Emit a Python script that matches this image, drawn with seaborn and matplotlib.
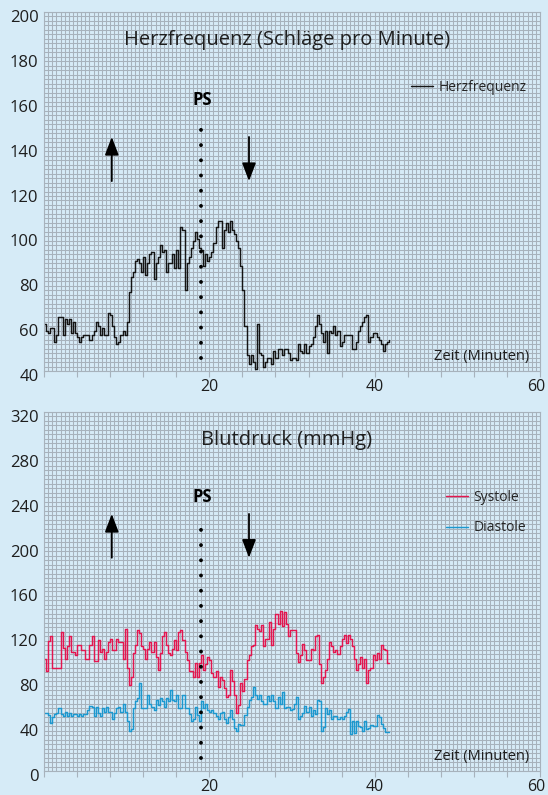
import numpy as np
import pandas as pd
import matplotlib
matplotlib.use("Agg")
import matplotlib.pyplot as plt
from matplotlib.ticker import MultipleLocator
from matplotlib.transforms import ScaledTranslation
import seaborn as sns

# ---------------- data ----------------
step_min = 0.25  # minutes between samples

herzfrequenz = [
    61, 58, 57, 59, 59, 53, 56, 64, 64, 56,
    63, 61, 63, 57, 62, 57, 55, 53, 55, 56,
    56, 56, 54, 56, 58, 62, 60, 56, 59, 56,
    56, 66, 65, 60, 55, 52, 53, 56, 58, 56,
    62, 75, 82, 84, 89, 90, 88, 84, 91, 83,
    88, 92, 93, 81, 88, 91, 96, 93, 94, 84,
    88, 88, 92, 86, 94, 86, 104, 103, 76, 88,
    91, 95, 98, 102, 99, 95, 94, 87, 92, 89,
    91, 93, 97, 104, 107, 107, 95, 103, 106, 102,
    107, 103, 101, 98, 95, 87, 76, 60, 47, 43,
    47, 44, 41, 61, 48, 47, 42, 44, 46, 46,
    43, 49, 46, 50, 50, 47, 50, 50, 48, 45,
    46, 46, 45, 52, 49, 48, 52, 48, 51, 52,
    55, 60, 65, 61, 57, 53, 58, 48, 58, 57,
    60, 56, 58, 51, 53, 56, 56, 56, 56, 50,
    50, 53, 58, 60, 62, 64, 65, 53, 55, 57,
    57, 55, 54, 52, 49, 52, 53, 54,
]

systole = [
    100, 89, 116, 120, 92, 92, 92, 92, 124, 110,
    100, 111, 120, 106, 106, 103, 112, 112, 108, 108,
    100, 100, 112, 120, 98, 98, 117, 106, 109, 100,
    106, 115, 118, 108, 108, 118, 115, 115, 100, 127,
    92, 77, 84, 105, 112, 126, 123, 111, 109, 100,
    109, 115, 106, 115, 102, 90, 105, 120, 124, 112,
    105, 103, 109, 117, 108, 124, 126, 117, 106, 99,
    89, 89, 84, 96, 84, 96, 103, 90, 95, 102,
    99, 87, 84, 89, 75, 84, 81, 74, 66, 68,
    90, 80, 68, 52, 59, 78, 71, 82, 99, 103,
    111, 112, 130, 127, 125, 130, 111, 118, 118, 133,
    112, 127, 140, 131, 143, 129, 142, 131, 120, 126,
    126, 126, 105, 97, 103, 113, 108, 99, 99, 109,
    108, 120, 121, 95, 78, 84, 90, 100, 115, 111,
    106, 108, 104, 111, 118, 121, 114, 121, 118, 111,
    100, 90, 95, 102, 92, 100, 78, 90, 92, 103,
    99, 105, 100, 112, 109, 108, 96, 96,
]

diastole = [
    52, 52, 50, 43, 48, 51, 52, 56, 51, 49,
    53, 49, 52, 49, 51, 51, 49, 51, 49, 51,
    51, 54, 58, 57, 49, 57, 52, 49, 56, 53,
    57, 53, 53, 46, 52, 56, 57, 53, 60, 53,
    45, 36, 37, 56, 62, 65, 78, 56, 56, 56,
    68, 60, 57, 54, 63, 59, 65, 62, 57, 65,
    62, 72, 63, 62, 68, 56, 56, 68, 56, 56,
    51, 45, 46, 57, 50, 45, 62, 56, 60, 54,
    53, 54, 52, 49, 46, 52, 53, 46, 43, 48,
    54, 46, 38, 36, 42, 41, 41, 50, 57, 63,
    66, 75, 68, 64, 68, 62, 60, 60, 67, 62,
    68, 62, 56, 66, 60, 70, 56, 57, 57, 54,
    55, 60, 66, 46, 49, 52, 58, 53, 57, 49,
    54, 51, 63, 62, 36, 39, 56, 51, 54, 46,
    49, 49, 46, 48, 46, 49, 53, 55, 33, 45,
    34, 45, 40, 39, 36, 45, 37, 38, 41, 40,
    40, 50, 48, 42, 38, 35, 35, 35,
]

hr_yticks = [40, 60, 80, 100, 120, 140, 160, 180, 200]
bp_yticks = [0, 40, 80, 120, 160, 200, 240, 280, 320]
x_labelled = [20, 40, 60]
ps_time = 19
arrow_up_time = 8.2
arrow_down_time = 24.8

# ---------------- style ----------------
BG = "#d6ebf7"
GRID = "#a7b2bc"
TXT = "#1e1e1e"
C_HR = "#141414"
C_SYS = "#e3164f"
C_DIA = "#1c98cf"

sns.set_theme(style="white")
plt.rcParams["font.family"] = ["Open Sans", "DejaVu Sans"]

time = np.arange(len(herzfrequenz)) * step_min
df_hr = pd.DataFrame({"Zeit": time, "Herzfrequenz": herzfrequenz})
df_bp = pd.DataFrame({"Zeit": time, "Systole": systole, "Diastole": diastole}).melt(
    id_vars="Zeit", var_name="Messung", value_name="mmHg")

fig = plt.figure(figsize=(5.48, 7.95), dpi=100, facecolor=BG)
ax1 = fig.add_axes([0.0803, 0.5333, 0.905, 0.4516])
ax2 = fig.add_axes([0.0803, 0.0302, 0.905, 0.4516])

xt = list(range(0, 60, 4)) + [60]
xl = [str(v) if v in x_labelled else "" for v in xt]


def style(ax, yticks, yminor):
    ax.set_facecolor(BG)
    ax.set_xlim(0, 60)
    ax.set_ylim(yticks[0], yticks[-1])
    ax.set_yticks(yticks)
    ax.set_xticks(xt)
    ax.set_xticklabels(xl)
    ax.xaxis.set_minor_locator(MultipleLocator(0.5))
    ax.yaxis.set_minor_locator(MultipleLocator(yminor))
    ax.grid(True, which="both", color=GRID, lw=0.75)
    ax.set_axisbelow(True)
    ax.tick_params(axis="y", length=0, pad=4, labelsize=12, labelcolor=TXT)
    ax.tick_params(axis="x", which="major", length=4, width=0.8, color=GRID,
                   pad=2, labelsize=11.5, labelcolor=TXT, bottom=True)
    ax.tick_params(which="minor", length=0)
    off = ScaledTranslation(0, -4 / 100, fig.dpi_scale_trans)
    for lab in ax.get_yticklabels():
        lab.set_transform(lab.get_transform() + off)
    last = ax.get_xticklabels()[-1]
    last.set_transform(last.get_transform() + ScaledTranslation(-4 / 100, 0, fig.dpi_scale_trans))
    for s in ax.spines.values():
        s.set_color(GRID)
        s.set_linewidth(0.8)
    ax.set_xlabel("")
    ax.set_ylabel("")
    ax.text(0.978, 0.04, "Zeit (Minuten)", transform=ax.transAxes,
            ha="right", va="center", fontsize=10.5, color=TXT)
    ax.axvline(ps_time, ymin=0.035, ymax=0.71, color="black", lw=2.8,
               linestyle=(0, (0.01, 3.9)), dash_capstyle="round")
    return ax.get_xaxis_transform()


def arrows(ax, tr, up_lo, up_hi, dn_hi, dn_lo):
    kw = dict(arrowstyle="-|>,head_length=1.1,head_width=0.42",
              mutation_scale=10, lw=1.3, color="black", shrinkA=0, shrinkB=0)
    ax.annotate("", xy=(arrow_up_time, up_hi), xytext=(arrow_up_time, up_lo),
                xycoords=tr, textcoords=tr, arrowprops=kw)
    ax.annotate("", xy=(arrow_down_time, dn_lo), xytext=(arrow_down_time, dn_hi),
                xycoords=tr, textcoords=tr, arrowprops=kw)


# ---- Herzfrequenz ----
sns.lineplot(data=df_hr, x="Zeit", y="Herzfrequenz", ax=ax1, color=C_HR, lw=1.05,
             drawstyle="steps-post", estimator=None, label="Herzfrequenz")
tr1 = style(ax1, hr_yticks, 2)
arrows(ax1, tr1, 0.529, 0.652, 0.652, 0.529)
ax1.text(ps_time + 0.2, 161, "PS", ha="center", va="center", fontsize=12,
         fontweight="bold", color="black")
ax1.text(0.49, 0.922, "Herzfrequenz (Schläge pro Minute)", transform=ax1.transAxes,
         ha="center", va="center", fontsize=14.5, color=TXT)
ax1.legend(loc="center left", bbox_to_anchor=(0.74, 0.79), frameon=False,
           fontsize=10, handlelength=1.6, handletextpad=0.4, borderpad=0,
           borderaxespad=0)

# ---- Blutdruck ----
sns.lineplot(data=df_bp, x="Zeit", y="mmHg", hue="Messung", ax=ax2,
             palette={"Systole": C_SYS, "Diastole": C_DIA}, lw=1.05,
             drawstyle="steps-post", estimator=None)
tr2 = style(ax2, bp_yticks, 4)
arrows(ax2, tr2, 0.594, 0.716, 0.716, 0.594)
ax2.text(ps_time + 0.2, 244, "PS", ha="center", va="center", fontsize=12,
         fontweight="bold", color="black")
ax2.text(0.49, 0.922, "Blutdruck (mmHg)", transform=ax2.transAxes,
         ha="center", va="center", fontsize=14.5, color=TXT)
h, l = ax2.get_legend_handles_labels()
ax2.legend(h, l, loc="center left", bbox_to_anchor=(0.81, 0.72), frameon=False,
           fontsize=10, handlelength=1.6, handletextpad=0.4, borderpad=0,
           borderaxespad=0, labelspacing=1.15)

fig.savefig("out.png", dpi=100, facecolor=BG)
